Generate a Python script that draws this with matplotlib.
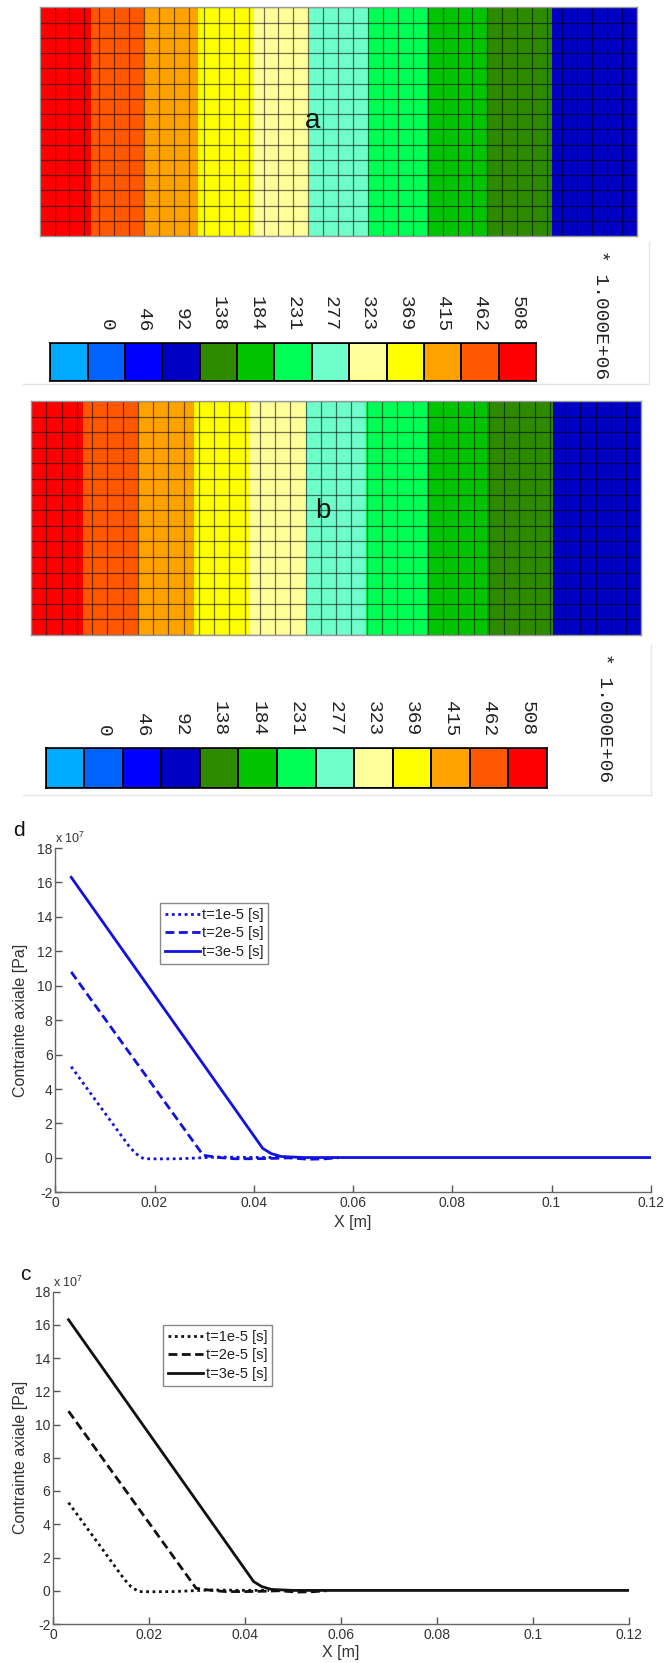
import numpy as np
import matplotlib
matplotlib.use("Agg")
import matplotlib.pyplot as plt
from matplotlib.colors import ListedColormap

plt.rcParams['font.family'] = ['Liberation Sans', 'DejaVu Sans']
plt.rcParams['mathtext.fontset'] = 'custom'
plt.rcParams['mathtext.rm'] = 'Liberation Sans'
plt.rcParams['mathtext.it'] = 'Liberation Sans'

W, H = 667, 1663

# ---------------- data ----------------
n_cols, n_rows = 40, 15
band_colors = ['#0000c4', '#2e8b00', '#00c400', '#00ff55', '#6fffca',
               '#ffff9a', '#ffff00', '#ffa200', '#ff5800', '#ff0000']
band_levels = [69, 115, 161, 207.5, 254, 300, 346, 392, 438.5, 485, 531]

mesh_a_x = [0, 3.42, 6.98, 10.62, 14.39, 18.06, 21.99, 25.93, 29.97, 34.31, 40]
mesh_a_val = [520, 485, 438.5, 392, 346, 300, 254, 207.5, 161, 115, 80]
mesh_b_x = [0, 3.40, 7.02, 10.67, 14.38, 18.03, 21.94, 25.92, 29.90, 34.20, 40]
mesh_b_val = [520, 485, 438.5, 392, 346, 300, 254, 207.5, 161, 115, 80]

cbar_colors = ['#00aaff', '#0062ff', '#0000ff', '#0000c4', '#2e8b00', '#00c400',
               '#00ff55', '#6fffca', '#ffff9a', '#ffff00', '#ffa200', '#ff5800', '#ff0000']
cbar_labels = ['0', '46', '92', '138', '184', '231', '277', '323', '369', '415', '462', '508']
cbar_scale = '* 1.000E+06'

# stress curves (x in m, stress in 1e7 Pa)
x_t1 = [0.0032, 0.0148, 0.0162, 0.0178, 0.021, 0.025, 0.029, 0.033, 0.038, 0.045]
y_t1 = [5.3, 0.7, 0.25, -0.05, -0.06, -0.05, 0.0, 0.05, 0.03, 0.02]
x_t2 = [0.0032, 0.0298, 0.031, 0.033, 0.036, 0.040, 0.044, 0.047, 0.051, 0.054, 0.057]
y_t2 = [10.8, 0.15, 0.1, 0.02, -0.05, -0.05, -0.03, 0.0, -0.08, -0.06, 0.0]
x_t3 = [0.0032, 0.0418, 0.0435, 0.0455, 0.050, 0.12]
y_t3 = [16.3, 0.55, 0.25, 0.08, 0.02, 0.02]
series_labels = ['t=1e-5 [s]', 't=2e-5 [s]', 't=3e-5 [s]']
x_ticks = [0, 0.02, 0.04, 0.06, 0.08, 0.1, 0.12]
x_tick_labels = ['0', '0.02', '0.04', '0.06', '0.08', '0.1', '0.12']
y_ticks = [-2, 0, 2, 4, 6, 8, 10, 12, 14, 16, 18]

fig = plt.figure(figsize=(W / 100, H / 100), dpi=100)


def px_axes(x0, y0, x1, y1, **kw):
    return fig.add_axes([x0 / W, 1 - y1 / H, (x1 - x0) / W, (y1 - y0) / H], **kw)


# overlay for free text / frame lines
ov = px_axes(0, 0, W, H)
ov.set_xlim(0, W)
ov.set_ylim(H, 0)
ov.axis('off')
ov.set_zorder(10)


def draw_mesh(box, xs, vals, letter, letter_pos):
    ax = px_axes(*box)
    X = np.array(xs)
    Y = np.array([0, n_rows])
    Z = np.vstack([vals, vals])
    ax.contourf(X, Y, Z, levels=band_levels, colors=band_colors, antialiased=False)
    ax.vlines(np.arange(n_cols + 1), 0, n_rows, colors=(0, 0, 0, 0.55), lw=0.9)
    ax.hlines(np.arange(n_rows + 1), 0, n_cols, colors=(0, 0, 0, 0.55), lw=0.9)
    ax.set_xlim(0, n_cols)
    ax.set_ylim(0, n_rows)
    ax.set_xticks([])
    ax.set_yticks([])
    for s in ax.spines.values():
        s.set_color('#999999')
        s.set_linewidth(1)
    ov.text(letter_pos[0], letter_pos[1], letter, fontsize=20, ha='center', va='center',
            color='#111111')


def draw_cbar(box, scale_pos):
    ax = px_axes(*box)
    ax.pcolormesh(np.arange(len(cbar_colors) + 1), [0, 1],
                  np.arange(len(cbar_colors))[None, :],
                  cmap=ListedColormap(cbar_colors), edgecolors='black', linewidth=1.2)
    ax.set_xlim(0, len(cbar_colors))
    ax.set_ylim(0, 1)
    ax.xaxis.tick_top()
    ax.set_xticks(np.arange(1, len(cbar_colors)) + 0.5)
    ax.set_xticklabels(cbar_labels, rotation=270, family='Liberation Mono', fontsize=14,
                       color='#222222')
    ax.tick_params(axis='x', length=0, pad=8.5)
    ax.set_yticks([])
    for s in ax.spines.values():
        s.set_color('black')
        s.set_linewidth(1.2)
    ov.text(scale_pos[0], scale_pos[1], cbar_scale, rotation=270, ha='center', va='top',
            family='Liberation Mono', fontsize=14, color='#222222')


draw_mesh((39.6, 7.3, 636.7, 236), mesh_a_x, mesh_a_val, 'a', (313, 121))
draw_cbar((50.2, 343, 536, 381), (600, 250))
draw_mesh((31, 401, 641.4, 635), mesh_b_x, mesh_b_val, 'b', (323, 511))
draw_cbar((45.9, 748.3, 546.6, 787.7), (604, 653))

# faint frame lines around colorbar panels
ov.plot([23, 649], [384, 384], color='#e6e6e6', lw=1)
ov.plot([649, 649], [242, 384], color='#e6e6e6', lw=1)
ov.plot([23, 651], [795, 795], color='#e6e6e6', lw=1)
ov.plot([651, 651], [645, 795], color='#e6e6e6', lw=1)


def draw_plot(box, color, letter, letter_pos, legend_anchor):
    ax = px_axes(*box)
    l1, = ax.plot(x_t1, y_t1, color=color, lw=2, linestyle=(0, (1, 1.3)))
    l2, = ax.plot(x_t2, y_t2, color=color, lw=2, linestyle=(0, (3.2, 1.6)))
    l3, = ax.plot(x_t3, y_t3, color=color, lw=2, linestyle='-')
    ax.set_xlim(0, 0.12)
    ax.set_ylim(-2, 18)
    ax.set_xticks(x_ticks)
    ax.set_xticklabels(x_tick_labels)
    ax.set_yticks(y_ticks)
    ax.set_yticklabels([str(v) for v in y_ticks])
    ax.tick_params(direction='in', length=5, width=1, color='#555555', labelsize=10,
                   labelcolor='#333333')
    ax.tick_params(axis='y', pad=2)
    ax.tick_params(axis='x', pad=3)
    for side in ('top', 'right'):
        ax.spines[side].set_visible(False)
    for side in ('left', 'bottom'):
        ax.spines[side].set_color('#666666')
        ax.spines[side].set_linewidth(1)
    ax.set_ylabel('Contrainte axiale [Pa]', fontsize=11.5, color='#333333')
    ax.yaxis.label.set_va('center')
    ax.yaxis.set_label_coords((21 - box[0]) / (box[2] - box[0]), 0.5)
    ax.set_xlabel('X [m]', fontsize=11.5, color='#333333')
    ax.xaxis.label.set_va('center')
    ax.xaxis.set_label_coords(0.5, -0.087)
    ax.patch.set_alpha(0)
    leg = ax.legend([l1, l2, l3], series_labels, loc='upper left',
                    bbox_to_anchor=(legend_anchor[0] / W, 1 - legend_anchor[1] / H),
                    bbox_transform=fig.transFigure, fontsize=10.5, frameon=True,
                    fancybox=False, framealpha=1, edgecolor='#888888',
                    handlelength=2.4, handletextpad=0.15, borderpad=0.35,
                    labelspacing=0.3, borderaxespad=0)
    leg.get_frame().set_linewidth(1)
    for t in leg.get_texts():
        t.set_color('#222222')
    ov.text(letter_pos[0], letter_pos[1], letter, fontsize=15, ha='center', va='center',
            color='#111111')
    ov.text(box[0], letter_pos[1] + 7, r'x 10$^{7}$', fontsize=9, ha='left', va='center',
            color='#333333')


draw_plot((55.3, 848, 650.8, 1192.3), '#1212e0', 'd', (19, 831), (159.5, 903))
draw_plot((53.2, 1291.5, 628.7, 1624), '#111111', 'c', (25, 1275), (163.3, 1325))

fig.savefig('out.png', dpi=100)
